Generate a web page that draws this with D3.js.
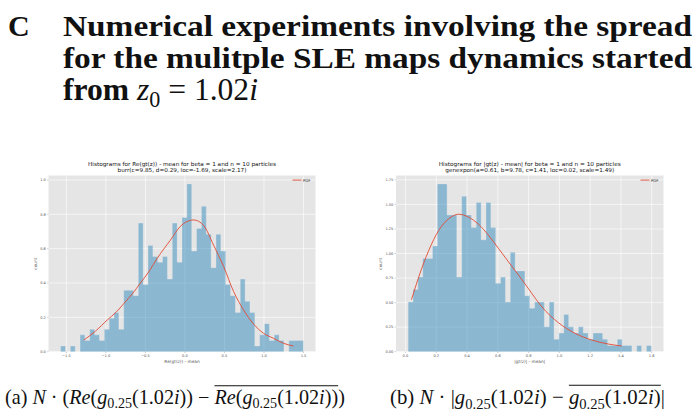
<!DOCTYPE html>
<html>
<head>
<meta charset="utf-8">
<script src="https://cdn.jsdelivr.net/npm/d3@7"></script>
<style>
  body { margin: 0; background: #fff; }
  svg { display: block; }
  text { white-space: pre; }
</style>
</head>
<body>
<svg id="fig" width="698" height="417"></svg>
<script>
// Left panel: Re(gt(z)) - mean, 50 bins, density
const reBinStart = -1.572;
const reBinWidth = 0.0614;
const reDensity = [0.033, 0, 0.033, 0, 0.098, 0.065, 0.130, 0.098, 0.065, 0.130,
  0.195, 0.228, 0.130, 0.358, 0.358, 0.326, 0.749, 0.391, 0.619, 0.554,
  0.521, 0.554, 0.423, 0.749, 0.521, 0.782, 0.977, 0.586, 0.717, 0.847,
  0.684, 0.489, 0.684, 0.586, 0.391, 0.326, 0.228, 0.423, 0.293, 0.228,
  0.033, 0.098, 0.163, 0.065, 0.098, 0.065, 0, 0.065, 0.065, 0.065];
// burr fit
const rePdfX = [-1.278, -1.13, -0.982, -0.87, -0.773, -0.66, -0.562, -0.45, -0.35, -0.183,
  -0.057, 0.112, 0.237, 0.363, 0.49, 0.616, 0.742, 0.868, 0.995, 1.12, 1.247, 1.373];
const rePdfY = [0.068, 0.12, 0.185, 0.23, 0.28, 0.34, 0.40, 0.47, 0.544, 0.65,
  0.73, 0.767, 0.735, 0.62, 0.495, 0.35, 0.243, 0.161, 0.107, 0.078, 0.049, 0.033];
const reXTicks = [-1.5, -1.0, -0.5, 0.0, 0.5, 1.0, 1.5];
const reYTicks = [0.0, 0.2, 0.4, 0.6, 0.8, 1.0];

// Right panel: |gt(z)| - mean, 50 bins, density
const absBinStart = 0.0175;
const absBinWidth = 0.0316;
const absDensity = [0.506, 0.633, 0.760, 0.950, 0.950, 1.076, 1.709, 1.709, 1.393, 1.393,
  0.760, 1.582, 1.393, 1.266, 1.519, 1.139, 1.519, 1.266, 0.696, 0.760,
  0.506, 1.013, 0.823, 0.823, 0.570, 0.443, 0.506, 0.506, 0.253, 0.506,
  0.127, 0.190, 0.380, 0.253, 0.190, 0.253, 0.190, 0.127, 0.190, 0.190,
  0.127, 0.063, 0.063, 0.127, 0.063, 0.063, 0, 0.063, 0, 0.063];
// genexpon fit
const absPdfX = [0.039, 0.086, 0.151, 0.216, 0.281, 0.346, 0.41, 0.475, 0.54, 0.605,
  0.67, 0.735, 0.80, 0.886, 0.994, 1.102, 1.21, 1.318, 1.405];
const absPdfY = [0.53, 0.76, 1.03, 1.235, 1.354, 1.40, 1.37, 1.297, 1.185, 1.05,
  0.914, 0.78, 0.64, 0.457, 0.295, 0.187, 0.119, 0.078, 0.058];
const absXTicks = [0.0, 0.2, 0.4, 0.6, 0.8, 1.0, 1.2, 1.4, 1.6];
const absYTicks = [0.00, 0.25, 0.50, 0.75, 1.00, 1.25, 1.50, 1.75];

const svg = d3.select("#fig");
const sans = "DejaVu Sans, sans-serif";
const serif = "Liberation Serif, Times New Roman, serif";
const minus = s => s.replace("-", "\u2212");

function drawHist(cfg) {
  const g = svg.append("g");
  const n = cfg.density.length;
  const lo = cfg.binStart, hi = cfg.binStart + n * cfg.binWidth;
  const pad = 0.05 * (hi - lo);
  const x = d3.scaleLinear().domain([lo - pad, hi + pad]).range([cfg.left, cfg.right]);
  const y = d3.scaleLinear().domain([0, d3.max(cfg.density) * 1.05]).range([cfg.bottom, cfg.top]);

  g.append("rect").attr("x", cfg.left).attr("y", cfg.top)
    .attr("width", cfg.right - cfg.left).attr("height", cfg.bottom - cfg.top)
    .attr("fill", "#E5E5E5");

  // grid
  g.selectAll(".gx").data(cfg.xTicks).join("line")
    .attr("x1", d => x(d)).attr("x2", d => x(d)).attr("y1", cfg.top).attr("y2", cfg.bottom)
    .attr("stroke", "#fff").attr("stroke-width", 0.6);
  g.selectAll(".gy").data(cfg.yTicks).join("line")
    .attr("x1", cfg.left).attr("x2", cfg.right).attr("y1", d => y(d)).attr("y2", d => y(d))
    .attr("stroke", "#fff").attr("stroke-width", 0.6);

  // step-filled histogram
  const pts = cfg.density.map((v, i) => [lo + i * cfg.binWidth, v]);
  pts.push([hi, cfg.density[n - 1]]);
  const area = d3.area().curve(d3.curveStepAfter)
    .x(d => x(d[0])).y0(y(0)).y1(d => y(d[1]));
  g.append("path").datum(pts).attr("d", area)
    .attr("fill", "#348ABD").attr("fill-opacity", 0.5)
    .attr("stroke", "#EEEEEE").attr("stroke-opacity", 0.5).attr("stroke-width", 0.6);

  // pdf curve
  const line = d3.line().curve(d3.curveMonotoneX).x(d => x(d[0])).y(d => y(d[1]));
  g.append("path").datum(cfg.pdfX.map((v, i) => [v, cfg.pdfY[i]])).attr("d", line)
    .attr("fill", "none").attr("stroke", "#E24A33").attr("stroke-width", 0.9);

  // ticks
  g.selectAll(".tx").data(cfg.xTicks).join("line")
    .attr("x1", d => x(d)).attr("x2", d => x(d)).attr("y1", cfg.bottom).attr("y2", cfg.bottom + 1.3)
    .attr("stroke", "#555").attr("stroke-width", 0.3);
  g.selectAll(".ty").data(cfg.yTicks).join("line")
    .attr("x1", cfg.left - 1.3).attr("x2", cfg.left).attr("y1", d => y(d)).attr("y2", d => y(d))
    .attr("stroke", "#555").attr("stroke-width", 0.3);
  g.selectAll(".lx").data(cfg.xTicks).join("text")
    .attr("x", d => x(d)).attr("y", cfg.bottom + 5.6)
    .attr("text-anchor", "middle").attr("font-family", sans).attr("font-size", 3.6)
    .attr("fill", "#555").text(d => minus(d3.format(cfg.xFmt)(d)));
  g.selectAll(".ly").data(cfg.yTicks).join("text")
    .attr("x", cfg.left - 2.6).attr("y", d => y(d) + 1.3)
    .attr("text-anchor", "end").attr("font-family", sans).attr("font-size", 3.6)
    .attr("fill", "#555").text(d => d3.format(cfg.yFmt)(d));

  // labels
  const cx = (cfg.left + cfg.right) / 2;
  g.append("text").attr("x", cx).attr("y", cfg.bottom + 11.6)
    .attr("text-anchor", "middle").attr("font-family", sans).attr("font-size", 4.3)
    .attr("fill", "#555").text(cfg.xLabel);
  g.append("text").attr("transform", `translate(${cfg.yLabelX},${(cfg.top + cfg.bottom) / 2}) rotate(-90)`)
    .attr("text-anchor", "middle").attr("font-family", sans).attr("font-size", 4.3)
    .attr("fill", "#555").text("count");
  cfg.title.forEach((t, i) => {
    g.append("text").attr("x", cx).attr("y", cfg.top - 9.3 + i * 6.2)
      .attr("text-anchor", "middle").attr("font-family", sans).attr("font-size", 5.5)
      .attr("textLength", cfg.titleLen[i]).attr("lengthAdjust", "spacingAndGlyphs")
      .attr("fill", "#111").text(t);
  });

  // legend
  g.append("line").attr("x1", cfg.right - 23).attr("x2", cfg.right - 14)
    .attr("y1", cfg.top + 4.6).attr("y2", cfg.top + 4.6)
    .attr("stroke", "#E24A33").attr("stroke-width", 0.9);
  g.append("text").attr("x", cfg.right - 12.5).attr("y", cfg.top + 6)
    .attr("font-family", sans).attr("font-size", 3.8).attr("fill", "#333").text("PDF");
}

drawHist({
  left: 48.5, right: 315.5, top: 175.5, bottom: 351.7,
  binStart: reBinStart, binWidth: reBinWidth, density: reDensity,
  pdfX: rePdfX, pdfY: rePdfY, xTicks: reXTicks, yTicks: reYTicks,
  xFmt: ".1f", yFmt: ".1f", xLabel: "Re(gt(z)) - mean", yLabelX: 36.8,
  title: ["Histograms for Re(gt(z)) - mean for beta = 1 and n = 10 particles",
          "burr(c=9.85, d=0.29, loc=-1.69, scale=2.17)"],
  titleLen: [188, 129]
});
drawHist({
  left: 396, right: 663.5, top: 175.5, bottom: 351.7,
  binStart: absBinStart, binWidth: absBinWidth, density: absDensity,
  pdfX: absPdfX, pdfY: absPdfY, xTicks: absXTicks, yTicks: absYTicks,
  xFmt: ".1f", yFmt: ".2f", xLabel: "|gt(z)| - mean|", yLabelX: 381.8,
  title: ["Histograms for |gt(z) - mean| for beta = 1 and n = 10 particles",
          "genexpon(a=0.61, b=9.78, c=1.41, loc=0.02, scale=1.49)"],
  titleLen: [182, 169]
});

// rich text (math) runs, scaled to a target width
function richLine(x, y, runs, size, target) {
  const draw = (fs, keep) => {
    const g = svg.append("g");
    let cx = x, overX = null;
    runs.forEach(r => {
      const f = r.sub ? fs * 0.7 : fs;
      const t = g.append("text").attr("x", cx).attr("y", y + (r.sub ? fs * 0.22 : 0))
        .attr("font-family", serif).attr("font-size", f)
        .attr("font-style", r.it ? "italic" : "normal")
        .attr("font-weight", r.b ? "bold" : "normal").attr("fill", "#111").text(r.t);
      if (r.os) overX = cx;
      cx += t.node().getComputedTextLength();
      if (r.oe) g.append("line").attr("x1", overX).attr("x2", cx)
        .attr("y1", y - fs * 0.9).attr("y2", y - fs * 0.9)
        .attr("stroke", "#111").attr("stroke-width", fs * 0.05);
    });
    if (!keep) g.remove();
    return cx - x;
  };
  const w = draw(size, false);
  draw(target ? size * target / w : size, true);
}

// heading
svg.append("text").attr("x", 8).attr("y", 36).attr("font-family", serif)
  .attr("font-weight", "bold").attr("font-size", 30).attr("fill", "#111").text("C");
const headLines = ["Numerical experiments involving the spread",
                   "for the mulitple SLE maps dynamics started"];
headLines.forEach((t, i) => {
  svg.append("text").attr("x", 63).attr("y", 36 + i * 32).attr("font-family", serif)
    .attr("font-weight", "bold").attr("font-size", 30).attr("fill", "#111")
    .attr("textLength", 629).attr("lengthAdjust", "spacingAndGlyphs").text(t);
});
richLine(63, 100, [
  { t: "from ", b: true }, { t: "z", it: true }, { t: "0", sub: true },
  { t: " = 1.02" }, { t: "i", it: true }
], 30, 195);

// captions
richLine(5, 404, [
  { t: "(a) " }, { t: "N", it: true }, { t: " \u00b7 (" }, { t: "Re", it: true }, { t: "(" },
  { t: "g", it: true }, { t: "0.25", sub: true }, { t: "(1.02" }, { t: "i", it: true }, { t: ")) \u2212 " },
  { t: "Re", it: true, os: true }, { t: "(" }, { t: "g", it: true }, { t: "0.25", sub: true },
  { t: "(1.02" }, { t: "i", it: true }, { t: "))", oe: true }, { t: ")" }
], 16, 340);
richLine(390, 404, [
  { t: "(b) " }, { t: "N", it: true }, { t: " \u00b7 |" }, { t: "g", it: true },
  { t: "0.25", sub: true }, { t: "(1.02" }, { t: "i", it: true }, { t: ") \u2212 " },
  { t: "g", it: true, os: true }, { t: "0.25", sub: true }, { t: "(1.02" }, { t: "i", it: true },
  { t: ")", oe: true }, { t: "|" }
], 16, 275);
</script>
</body>
</html>
